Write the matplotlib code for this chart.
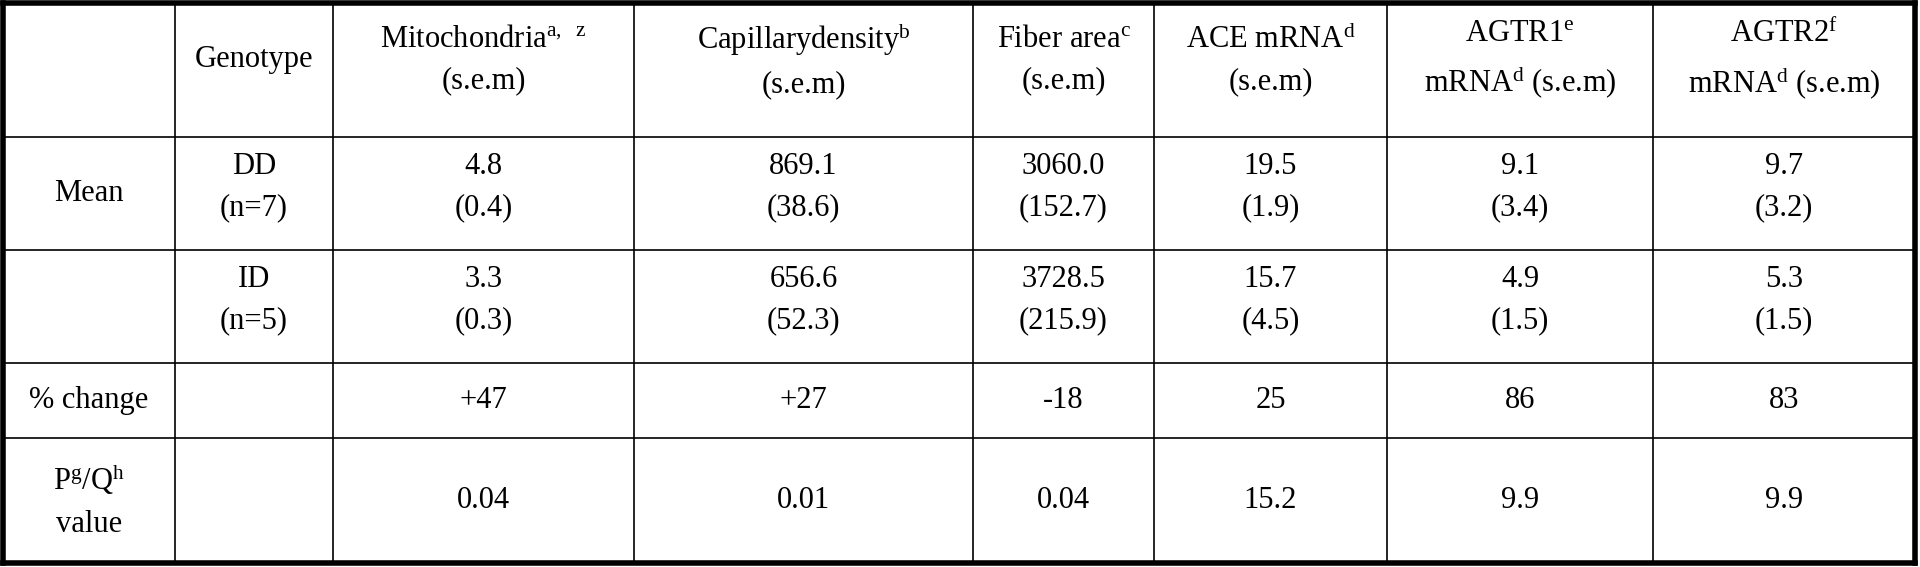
import matplotlib
matplotlib.use("Agg")
import matplotlib.pyplot as plt

plt.rcParams["font.family"] = "Liberation Serif"
plt.rcParams["mathtext.fontset"] = "custom"
plt.rcParams["mathtext.rm"] = "Liberation Serif"
plt.rcParams["mathtext.it"] = "Liberation Serif"

headers = ["", "Genotype", "Mitochondria$^{\\mathrm{a,\\ \\ z}}$\n(s.e.m)",
           "Capillarydensity$^{\\mathrm{b}}$\n(s.e.m)", "Fiber area$^{\\mathrm{c}}$\n(s.e.m)",
           "ACE mRNA$^{\\mathrm{d}}$\n(s.e.m)", "AGTR1$^{\\mathrm{e}}$\nmRNA$^{\\mathrm{d}}$ (s.e.m)",
           "AGTR2$^{\\mathrm{f}}$\nmRNA$^{\\mathrm{d}}$ (s.e.m)"]
row_labels = ["Mean", "", "% change", "P$^{\\mathrm{g}}$/Q$^{\\mathrm{h}}$\nvalue"]
genotypes = ["DD\n(n=7)", "ID\n(n=5)", "", ""]
dd_mean = ["4.8", "869.1", "3060.0", "19.5", "9.1", "9.7"]
dd_sem = ["0.4", "38.6", "152.7", "1.9", "3.4", "3.2"]
id_mean = ["3.3", "656.6", "3728.5", "15.7", "4.9", "5.3"]
id_sem = ["0.3", "52.3", "215.9", "4.5", "1.5", "1.5"]
pct_change = ["+47", "+27", "-18", "25", "86", "83"]
p_values = ["0.04", "0.01", "0.04", "15.2", "9.9", "9.9"]

xs = [3, 175, 333, 634, 973, 1154, 1387, 1653, 1915]
ys = [3, 137, 250, 363, 438, 563]

fig = plt.figure(figsize=(19.2, 5.67), dpi=100)
ax = fig.add_axes([0, 0, 1, 1])
ax.set_xlim(0, 1920)
ax.set_ylim(567, 0)
ax.axis("off")

for i, x in enumerate(xs):
    lw = 4 if i in (0, len(xs) - 1) else 1.2
    ax.plot([x, x], [ys[0], ys[-1]], color="black", lw=lw, solid_capstyle="projecting")
for j, y in enumerate(ys):
    lw = 4 if j in (0, len(ys) - 1) else 1.2
    ax.plot([xs[0], xs[-1]], [y, y], color="black", lw=lw, solid_capstyle="projecting")

fs = 22
def cell(c, r, s, dy=0):
    cx = (xs[c] + xs[c + 1]) / 2
    cy = (ys[r] + ys[r + 1]) / 2 + dy
    ax.text(cx, cy, s, ha="center", va="center", fontsize=fs, linespacing=1.55)

for c, h in enumerate(headers):
    if h:
        cell(c, 0, h, dy=-10)
for r, lab in enumerate(row_labels):
    if lab:
        cell(0, r + 1, lab)
for r, g in enumerate(genotypes):
    if g:
        cell(1, r + 1, g, dy=-6)
for k in range(6):
    cell(k + 2, 1, f"{dd_mean[k]}\n({dd_sem[k]})", dy=-6)
    cell(k + 2, 2, f"{id_mean[k]}\n({id_sem[k]})", dy=-6)
    cell(k + 2, 3, pct_change[k])
    cell(k + 2, 4, p_values[k])

fig.savefig("out.png", dpi=100)
